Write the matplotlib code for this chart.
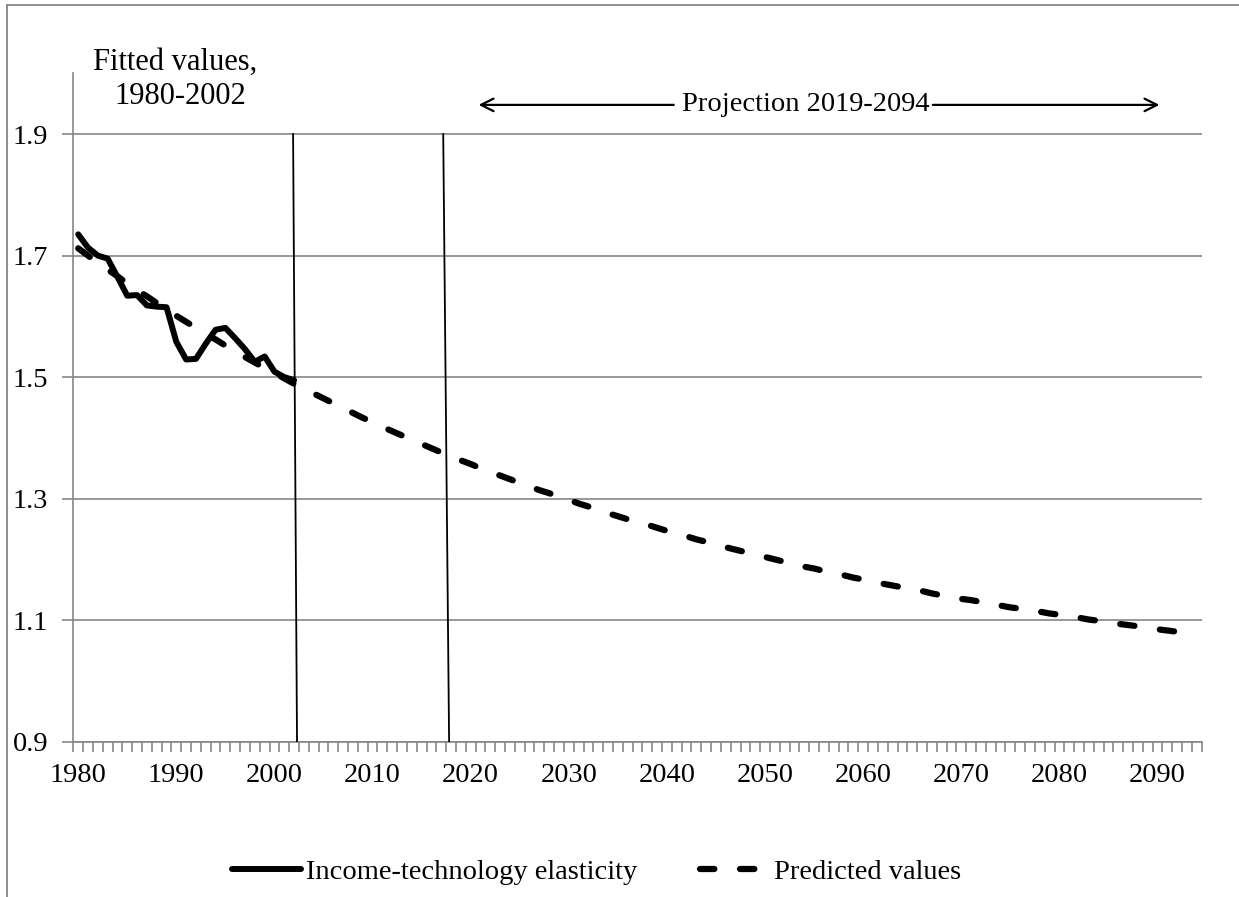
import numpy as np
import matplotlib
matplotlib.use("Agg")
import matplotlib.pyplot as plt
from matplotlib.lines import Line2D

plt.rcParams['font.family'] = ['Liberation Serif', 'DejaVu Serif']

# ---- data -------------------------------------------------------------
first_year, last_year = 1980, 2094
years = list(range(first_year, last_year + 1))

# observed income-technology elasticity, 1980-2002
elasticity = [1.735, 1.713, 1.700, 1.695, 1.665, 1.634, 1.635, 1.618, 1.616,
              1.615, 1.558, 1.529, 1.530, 1.555, 1.578, 1.581, 1.564, 1.546,
              1.525, 1.534, 1.509, 1.500, 1.495]

# fitted / projected values, 1980-2094
predicted = [
    1.712, 1.700, 1.688, 1.677, 1.666, 1.654, 1.643, 1.633, 1.622, 1.612,  # 1980s
    1.601, 1.591, 1.581, 1.571, 1.562, 1.552, 1.543, 1.533, 1.524, 1.515,  # 1990s
    1.507, 1.498, 1.489, 1.481, 1.473, 1.465, 1.457, 1.449, 1.441, 1.433,  # 2000s
    1.426, 1.418, 1.411, 1.404, 1.397, 1.390, 1.383, 1.376, 1.370, 1.363,  # 2010s
    1.357, 1.350, 1.344, 1.338, 1.332, 1.326, 1.320, 1.314, 1.309, 1.303,  # 2020s
    1.298, 1.292, 1.287, 1.282, 1.276, 1.271, 1.266, 1.261, 1.257, 1.252,  # 2030s
    1.247, 1.242, 1.238, 1.233, 1.229, 1.225, 1.220, 1.216, 1.212, 1.208,  # 2040s
    1.204, 1.200, 1.196, 1.192, 1.188, 1.185, 1.181, 1.177, 1.174, 1.170,  # 2050s
    1.167, 1.164, 1.160, 1.157, 1.154, 1.151, 1.148, 1.144, 1.141, 1.138,  # 2060s
    1.135, 1.133, 1.130, 1.127, 1.124, 1.121, 1.119, 1.116, 1.114, 1.111,  # 2070s
    1.109, 1.106, 1.104, 1.101, 1.099, 1.097, 1.094, 1.092, 1.090, 1.088,  # 2080s
    1.085, 1.083, 1.081, 1.079, 1.077,                                     # 2090-94
]

y_ticks = [0.9, 1.1, 1.3, 1.5, 1.7, 1.9]
label_every = 10
fit_end_year = 2002
projection_line_year = 2018

# ---- figure -----------------------------------------------------------
W, H = 1239, 897
fig = plt.figure(figsize=(W / 100, H / 100), dpi=100)
ax = fig.add_axes([73.3 / W, 1 - 741.7 / H, (1201.7 - 73.3) / W, (741.7 - 73.3) / H])

GRAY = '#868686'
FS = 20.5

pos = np.arange(len(years))
ax.plot(pos[:len(elasticity)], elasticity, color='black', lw=4.3,
        solid_joinstyle='round', solid_capstyle='round', zorder=4,
        label='Income-technology elasticity')
ax.plot(pos, predicted, color='black', lw=4.5, ls=(0, (2.3, 4.1)),
        dash_capstyle='round', zorder=5, label='Predicted values')

ax.set_xlim(-0.5, len(years) - 0.5)
ax.set_ylim(0.9, 2.0)

# y axis
ax.set_yticks(y_ticks)
ax.set_yticklabels([f'{v:.1f}' for v in y_ticks], fontsize=FS)
ax.yaxis.grid(True, color=GRAY, lw=1.2)
ax.set_axisbelow(True)
ax.tick_params(axis='y', direction='out', length=8, width=1.2, color=GRAY, pad=10)

# x axis: labels every ten years at category centres, ticks at every boundary
ax.set_xticks(pos[::label_every])
ax.set_xticklabels([str(y) for y in years[::label_every]], fontsize=FS)
ax.set_xticks(np.arange(-0.5, len(years), 1.0), minor=True)
ax.tick_params(axis='x', which='major', length=0, pad=15)
ax.tick_params(axis='x', which='minor', direction='out', length=7, width=1.2, color=GRAY)

for side in ('top', 'right'):
    ax.spines[side].set_visible(False)
for side in ('left', 'bottom'):
    ax.spines[side].set_color(GRAY)
    ax.spines[side].set_linewidth(1.2)

# period separators
i_fit = years.index(fit_end_year)
i_proj = years.index(projection_line_year)
ax.plot([i_fit - 0.1, i_fit + 0.3], [1.9, 0.9], color='black', lw=1.3, zorder=6)
ax.plot([i_proj - 0.8, i_proj - 0.2], [1.9, 0.9], color='black', lw=1.3, zorder=6)

# annotations
ax.text(years.index(1990) - 0.1, 2.018, 'Fitted values,', ha='center', va='center',
        fontsize=22, clip_on=False)
ax.text(years.index(1990) + 0.4, 1.961, '1980-2002', ha='center', va='center',
        fontsize=22, clip_on=False)

arrow_y = 1.948
ax.text(years.index(2054) + 0.2, arrow_y, 'Projection 2019-2094', ha='center', va='center',
        fontsize=FS, clip_on=False)
arrow_kw = dict(arrowstyle='->,head_length=0.9,head_width=0.45', color='black', lw=1.6,
                shrinkA=0, shrinkB=0)
ax.annotate('', xy=(years.index(2020) + 0.8, arrow_y),
            xytext=(years.index(2040) + 0.7, arrow_y), arrowprops=arrow_kw,
            annotation_clip=False)
ax.annotate('', xy=(years.index(2090) + 0.2, arrow_y),
            xytext=(years.index(2067) + 0.1, arrow_y), arrowprops=arrow_kw,
            annotation_clip=False)

# legend
fig.legend(loc='center', bbox_to_anchor=(597 / W, 1 - 872 / H), ncol=2, frameon=False,
           fontsize=FS, handlelength=2.4, handletextpad=0.2, columnspacing=2.2)

# outer chart-area frame
fig.add_artist(Line2D([7 / W, 1], [1 - 5 / H, 1 - 5 / H], transform=fig.transFigure,
                      color=GRAY, lw=1.3))
fig.add_artist(Line2D([7 / W, 7 / W], [0, 1 - 5 / H], transform=fig.transFigure,
                      color=GRAY, lw=1.3))

fig.savefig('out.png', dpi=100, facecolor='white')
